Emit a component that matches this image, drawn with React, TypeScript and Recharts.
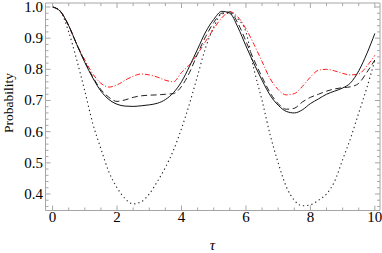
import React from "react";
import { LineChart, Line, XAxis, YAxis } from "recharts";

const tau = [0, 0.25, 0.5, 0.75, 1, 1.25, 1.5, 1.75, 2, 2.25, 2.5, 2.75, 3, 3.25, 3.5, 3.75, 4, 4.25, 4.5, 4.75, 5, 5.25, 5.5, 5.75, 6, 6.25, 6.5, 6.75, 7, 7.25, 7.5, 7.75, 8, 8.25, 8.5, 8.75, 9, 9.25, 9.5, 9.75, 10];

const solid = [1.0, 0.985, 0.94, 0.88, 0.822, 0.772, 0.73, 0.703, 0.688, 0.682, 0.681, 0.683, 0.686, 0.691, 0.703, 0.725, 0.76, 0.81, 0.865, 0.92, 0.96, 0.986, 0.98, 0.935, 0.875, 0.818, 0.765, 0.717, 0.685, 0.665, 0.66, 0.67, 0.69, 0.705, 0.72, 0.73, 0.74, 0.757, 0.795, 0.85, 0.915];

const dashed = [1.0, 0.985, 0.94, 0.88, 0.825, 0.775, 0.735, 0.71, 0.697, 0.702, 0.71, 0.715, 0.717, 0.718, 0.72, 0.722, 0.745, 0.79, 0.85, 0.905, 0.95, 0.98, 0.984, 0.948, 0.89, 0.83, 0.775, 0.725, 0.69, 0.672, 0.675, 0.695, 0.71, 0.72, 0.73, 0.737, 0.741, 0.744, 0.755, 0.79, 0.83];

const dotted = [1.0, 0.985, 0.92, 0.83, 0.73, 0.625, 0.545, 0.47, 0.42, 0.385, 0.368, 0.375, 0.4, 0.44, 0.485, 0.54, 0.61, 0.69, 0.78, 0.87, 0.935, 0.978, 0.98, 0.962, 0.92, 0.8, 0.7, 0.59, 0.5, 0.424, 0.38, 0.362, 0.365, 0.38, 0.4, 0.44, 0.51, 0.58, 0.66, 0.74, 0.83];

const redDashDot = [1.0, 0.985, 0.94, 0.88, 0.83, 0.785, 0.755, 0.743, 0.75, 0.765, 0.778, 0.785, 0.782, 0.775, 0.765, 0.76, 0.79, 0.815, 0.85, 0.89, 0.93, 0.965, 0.985, 0.968, 0.93, 0.88, 0.825, 0.77, 0.735, 0.718, 0.722, 0.745, 0.775, 0.797, 0.8, 0.795, 0.787, 0.782, 0.785, 0.81, 0.845];

const xMajorTicks = [0, 2, 4, 6, 8, 10];
const yMajorTicks = [0.4, 0.5, 0.6, 0.7, 0.8, 0.9, 1.0];
const yTickLabels = ["0.4", "0.5", "0.6", "0.7", "0.8", "0.9", "1.0"];

const xAllTicks = Array.from({ length: 21 }, (_, i) => i * 0.5);
const yAllTicks = Array.from({ length: 33 }, (_, i) => Math.round((0.36 + i * 0.02) * 100) / 100);

const data = tau.map((t, i) => ({
  t,
  solid: solid[i],
  dashed: dashed[i],
  dotted: dotted[i],
  red: redDashDot[i],
}));

const FRAME = "#a6a6a6";
const FONT = "'Liberation Serif', 'DejaVu Serif', serif";
const TICK_FONT = 15;

const isMajorX = (v: number) => xMajorTicks.some((m) => Math.abs(m - v) < 1e-6);
const yMajorIndex = (v: number) => yMajorTicks.findIndex((m) => Math.abs(m - v) < 1e-6);

const makeXTick = (dir: number, labels: boolean) => (props: any) => {
  const { x, y, payload } = props;
  const v = payload.value;
  const major = isMajorX(v);
  const len = major ? 5 : 3;
  return (
    <g>
      <line x1={x} x2={x} y1={y} y2={y + dir * len} stroke={FRAME} strokeWidth={1} />
      {labels && major && (
        <text x={x} y={y + 11.5} textAnchor="middle" fontFamily={FONT} fontSize={TICK_FONT} fill="#000">
          {String(v)}
        </text>
      )}
    </g>
  );
};

const makeYTick = (dir: number, labels: boolean) => (props: any) => {
  const { x, y, payload } = props;
  const v = payload.value;
  const idx = yMajorIndex(v);
  const major = idx >= 0;
  const len = major ? 5 : 3;
  return (
    <g>
      <line x1={x} x2={x + dir * len} y1={y} y2={y} stroke={FRAME} strokeWidth={1} />
      {labels && major && (
        <text x={x - 2.5} y={y + 5} textAnchor="end" fontFamily={FONT} fontSize={TICK_FONT} fill="#000">
          {yTickLabels[idx]}
        </text>
      )}
    </g>
  );
};

const X_DOMAIN: [number, number] = [-0.22, 10.16];
const Y_DOMAIN: [number, number] = [0.347, 1.0128];

export default function App() {
  return (
    <div style={{ position: "absolute", left: 0, top: 0, width: 382, height: 253, background: "#fff" }}>
      <LineChart
        width={382}
        height={253}
        data={data}
        margin={{ top: 2, right: 1, bottom: 41.5, left: 44.5 }}
      >
        <XAxis
          xAxisId="b"
          dataKey="t"
          type="number"
          domain={X_DOMAIN}
          allowDataOverflow
          ticks={xAllTicks}
          interval={0}
          height={1}
          tickSize={0}
          tickMargin={0}
          tickLine={false}
          axisLine={{ stroke: FRAME }}
          tick={makeXTick(-1, true)}
        />
        <XAxis
          xAxisId="t"
          orientation="top"
          dataKey="t"
          type="number"
          domain={X_DOMAIN}
          allowDataOverflow
          ticks={xAllTicks}
          interval={0}
          height={1}
          tickSize={0}
          tickMargin={0}
          tickLine={false}
          axisLine={{ stroke: FRAME }}
          tick={makeXTick(1, false)}
        />
        <YAxis
          yAxisId="l"
          type="number"
          domain={Y_DOMAIN}
          allowDataOverflow
          ticks={yAllTicks}
          interval={0}
          width={1}
          tickSize={0}
          tickMargin={0}
          tickLine={false}
          axisLine={{ stroke: FRAME }}
          tick={makeYTick(1, true)}
        />
        <YAxis
          yAxisId="r"
          orientation="right"
          type="number"
          domain={Y_DOMAIN}
          allowDataOverflow
          ticks={yAllTicks}
          interval={0}
          width={1}
          tickSize={0}
          tickMargin={0}
          tickLine={false}
          axisLine={{ stroke: FRAME }}
          tick={makeYTick(-1, false)}
        />
        <Line xAxisId="b" yAxisId="l" type="monotone" dataKey="dotted" stroke="#222" strokeWidth={1.1} strokeDasharray="1.3 3" dot={false} isAnimationActive={false} />
        <Line xAxisId="b" yAxisId="l" type="monotone" dataKey="red" stroke="#ff1a1a" strokeWidth={1} strokeDasharray="5 2 1 2" dot={false} isAnimationActive={false} />
        <Line xAxisId="b" yAxisId="l" type="monotone" dataKey="dashed" stroke="#222" strokeWidth={1} strokeDasharray="6 3.5" dot={false} isAnimationActive={false} />
        <Line xAxisId="b" yAxisId="l" type="monotone" dataKey="solid" stroke="#111" strokeWidth={1} dot={false} isAnimationActive={false} />
      </LineChart>
      <div
        style={{
          position: "absolute",
          left: 8.5,
          top: 103,
          transform: "translate(-50%, -50%) rotate(-90deg)",
          fontFamily: FONT,
          fontSize: 13.5,
          lineHeight: 1,
          whiteSpace: "nowrap",
          color: "#000",
        }}
      >
        Probability
      </div>
      <div
        style={{
          position: "absolute",
          left: 212.5,
          top: 245,
          transform: "translate(-50%, -50%)",
          fontFamily: FONT,
          fontStyle: "italic",
          fontSize: 15,
          lineHeight: 1,
          whiteSpace: "nowrap",
          color: "#000",
        }}
      >
        τ
      </div>
    </div>
  );
}
